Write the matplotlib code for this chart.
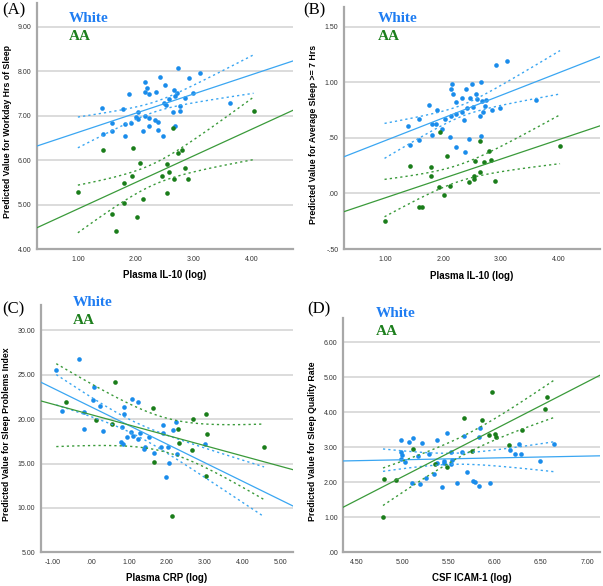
import numpy as np
import matplotlib.pyplot as plt

W, H = 603, 586

# (A) Plasma IL-10 vs workday hours of sleep
a_white_x = [2.73, 3.11, 2.41, 2.92, 2.15, 2.51, 2.19, 2.66, 2.16, 2.71, 2.22, 1.88, 2.34, 2.99, 2.68,
             2.57, 2.84, 2.48, 2.52, 1.41, 1.77, 2.76, 3.62, 2.64, 2.76, 2.04, 2.00, 2.04, 2.16, 2.23,
             2.33, 2.38, 1.58, 1.82, 1.91, 2.67, 2.23, 2.13, 2.38, 1.59, 1.44, 1.82, 2.46]
a_white_y = [8.08, 7.95, 7.87, 7.84, 7.76, 7.68, 7.63, 7.58, 7.53, 7.50, 7.48, 7.49, 7.52, 7.50, 7.44,
             7.38, 7.40, 7.29, 7.23, 7.18, 7.14, 7.22, 7.29, 7.08, 7.10, 7.08, 6.96, 6.92, 6.99, 6.95,
             6.89, 6.86, 6.83, 6.81, 6.83, 6.77, 6.77, 6.66, 6.67, 6.65, 6.59, 6.54, 6.54]
a_aa_x = [1.43, 1.95, 2.72, 2.80, 2.08, 2.53, 2.84, 2.57, 1.93, 2.45, 2.65, 2.90, 1.80, 1.00, 2.53,
          2.13, 1.80, 1.59, 2.02, 1.65, 2.64, 4.03]
a_aa_y = [6.23, 6.27, 6.15, 6.22, 5.94, 5.92, 5.81, 5.72, 5.63, 5.63, 5.58, 5.58, 5.48, 5.28, 5.25,
          5.12, 5.03, 4.79, 4.72, 4.40, 6.72, 7.10]

# (B) Plasma IL-10 vs average sleep >= 7 hrs
b_white_x = [2.91, 3.10, 2.16, 2.50, 2.66, 2.14, 2.18, 2.40, 2.57, 1.76, 2.22, 2.32, 2.47, 2.59, 2.67,
             2.75, 2.73, 2.99, 3.61, 2.84, 1.90, 2.41, 2.51, 2.69, 2.63, 2.33, 2.22, 2.14, 2.03, 2.37,
             1.58, 1.40, 1.81, 1.88, 1.98, 1.81, 1.58, 1.43, 2.12, 2.44, 2.66, 2.22, 2.38]
b_white_y = [1.16, 1.19, 0.99, 0.99, 1.00, 0.94, 0.90, 0.94, 0.90, 0.80, 0.82, 0.86, 0.86, 0.85, 0.83,
             0.84, 0.79, 0.77, 0.84, 0.75, 0.75, 0.77, 0.78, 0.73, 0.70, 0.73, 0.72, 0.70, 0.67, 0.66,
             0.67, 0.61, 0.63, 0.63, 0.58, 0.53, 0.48, 0.44, 0.51, 0.49, 0.52, 0.42, 0.37]
b_aa_x = [1.94, 2.63, 2.07, 2.79, 1.43, 1.79, 2.56, 2.71, 2.83, 4.02, 1.79, 2.53, 2.64, 2.53, 2.45,
          2.90, 2.12, 1.93, 2.01, 1.58, 1.64, 0.99]
b_aa_y = [0.55, 0.47, 0.34, 0.38, 0.25, 0.24, 0.29, 0.28, 0.30, 0.43, 0.16, 0.16, 0.19, 0.13, 0.10,
          0.11, 0.07, 0.06, -0.01, -0.12, -0.12, -0.25]

# (C) Plasma CRP vs sleep problems index
c_white_x = [-0.30, -0.91, -0.75, -0.19, 0.09, 0.05, 0.24, -0.19, 0.32, 1.09, 1.23, 0.88, 0.88, 0.81,
             1.05, 1.11, 0.95, 1.30, 1.52, 1.24, 1.90, 1.90, 2.24, 2.16, 0.79, 0.84, 1.43, 1.41, 1.67,
             1.84, 2.02, 2.26, 2.07, 1.97, 3.00]
c_white_y = [26.77, 25.53, 20.91, 20.84, 23.58, 22.15, 21.48, 18.89, 18.63, 22.27, 21.89, 21.36, 20.54,
             19.08, 18.59, 18.10, 17.95, 18.40, 18.02, 17.80, 19.34, 18.47, 19.71, 18.81, 17.46, 17.23,
             16.86, 16.67, 16.15, 16.89, 16.89, 16.03, 15.02, 13.51, 17.23]
c_aa_x = [-0.66, 0.64, 1.63, 0.14, 0.56, 2.29, 2.68, 3.04, 3.06, 2.32, 2.65, 1.65, 3.03, 2.13, 4.56]
c_aa_y = [21.89, 24.21, 21.28, 19.90, 19.45, 18.89, 20.01, 20.54, 18.32, 17.28, 16.54, 15.20, 13.59,
          9.09, 16.82]

# (D) CSF ICAM-1 vs sleep quality rate
d_white_x = [5.48, 5.12, 5.67, 5.84, 5.83, 5.37, 4.98, 5.07, 5.21, 4.99, 5.00, 5.17, 5.29, 5.53, 5.65,
             6.16, 6.26, 6.22, 6.28, 6.64, 4.98, 5.03, 5.38, 5.45, 5.45, 5.54, 5.53, 6.49, 5.70, 5.34,
             5.26, 5.77, 5.79, 5.10, 5.19, 5.59, 5.95, 5.43, 5.83]
d_white_y = [3.40, 3.26, 3.32, 3.56, 3.29, 3.21, 3.21, 3.14, 3.12, 2.86, 2.78, 2.76, 2.80, 2.86, 2.87,
             2.92, 3.11, 2.81, 2.81, 3.09, 2.67, 2.59, 2.56, 2.62, 2.55, 2.65, 2.53, 2.60, 2.29, 2.24,
             2.13, 2.04, 2.02, 1.97, 1.95, 1.97, 1.99, 1.86, 1.90]
d_aa_x = [5.97, 6.57, 6.54, 5.67, 5.86, 6.30, 5.94, 6.00, 6.01, 6.15, 5.12, 5.75, 5.35, 5.48, 4.80,
          4.93, 4.79]
d_aa_y = [4.59, 4.45, 4.09, 3.83, 3.79, 3.49, 3.35, 3.37, 3.29, 3.06, 2.95, 2.89, 2.53, 2.45, 2.10,
          2.06, 1.01]

BLUE_PT, BLUE_LN = '#1a8ceb', '#3aa6f2'
GREEN_PT, GREEN_LN = '#1a7d1a', '#3a9a3a'

panels = [
    dict(tag='(A)', box=(36.7, 3, 293, 249), xlim=(0.29, 4.71), ylim=(4, 9.53),
         xt=[1, 2, 3, 4], yt=[4, 5, 6, 7, 8, 9],
         wx=a_white_x, wy=a_white_y, gx=a_aa_x, gy=a_aa_y,
         xlab='Plasma IL-10 (log)', ylab='Predicted Value for Workday Hrs of Sleep',
         tagpos=(2, 2), legpos=(69, 12), ylx=7.5, xly=275),
    dict(tag='(B)', box=(344, 7, 600, 249), xlim=(0.29, 4.71), ylim=(-0.5, 1.68),
         xt=[1, 2, 3, 4], yt=[-0.5, 0, 0.5, 1.0, 1.5],
         wx=b_white_x, wy=b_white_y, gx=b_aa_x, gy=b_aa_y,
         xlab='Plasma IL-10 (log)', ylab='Predicted Value for Average Sleep >= 7 Hrs',
         tagpos=(303, 2), legpos=(378, 12), ylx=313, xly=276),
    dict(tag='(C)', box=(40.7, 305, 293.3, 552.3), xlim=(-1.32, 5.33), ylim=(5, 32.85),
         xt=[-1, 0, 1, 2, 3, 4, 5], yt=[5, 10, 15, 20, 25, 30],
         wx=c_white_x, wy=c_white_y, gx=c_aa_x, gy=c_aa_y,
         xlab='Plasma CRP (log)', ylab='Predicted Value for Sleep Problems Index',
         tagpos=(2, 301), legpos=(73, 296), ylx=7, xly=578),
    dict(tag='(D)', box=(343.3, 318.3, 600, 552.3), xlim=(4.36, 7.14), ylim=(0, 6.69),
         xt=[4.5, 5, 5.5, 6, 6.5, 7], yt=[0, 1, 2, 3, 4, 5, 6],
         wx=d_white_x, wy=d_white_y, gx=d_aa_x, gy=d_aa_y,
         xlab='CSF ICAM-1 (log)', ylab='Predicted Value for Sleep Quality Rate',
         tagpos=(307, 301), legpos=(376, 307), ylx=312.5, xly=578),
]


def spss(v):
    s = f"{v:.2f}"
    if s.startswith('0.'):
        s = s[1:]
    elif s.startswith('-0.'):
        s = '-' + s[2:]
    return s


def fit_with_ci(ax, x, y, xlim, xr, ln_color):
    x = np.asarray(x)
    y = np.asarray(y)
    n = len(x)
    b, a = np.polyfit(x, y, 1)
    xs = np.array(xlim)
    ax.plot(xs, a + b * xs, color=ln_color, lw=0.9, zorder=4)
    res = y - (a + b * x)
    s = np.sqrt(np.sum(res ** 2) / (n - 2))
    t = 1.96 + 2.4 / (n - 2)
    sxx = np.sum((x - x.mean()) ** 2)
    g = np.linspace(xr[0], xr[1], 60)
    hw = t * s * np.sqrt(1 / n + (g - x.mean()) ** 2 / sxx)
    for sign in (1, -1):
        ax.plot(g, a + b * g + sign * hw, color=ln_color, lw=1.0,
                linestyle=(0, (1.6, 2.2)), zorder=4)


fig = plt.figure(figsize=(W / 100, H / 100), dpi=100)


def px(x, y):
    return x / W, 1 - y / H


for p in panels:
    l, t, r, b = p['box']
    ax = fig.add_axes([l / W, 1 - b / H, (r - l) / W, (b - t) / H])
    ax.set_xlim(*p['xlim'])
    ax.set_ylim(*p['ylim'])
    for sp in ('top', 'right'):
        ax.spines[sp].set_visible(False)
    for sp in ('left', 'bottom'):
        ax.spines[sp].set_color('#a8a8a8')
        ax.spines[sp].set_linewidth(1.6)
    ax.set_xticks(p['xt'])
    ax.set_yticks(p['yt'])
    ax.set_xticklabels([spss(v) for v in p['xt']])
    ax.set_yticklabels([spss(v) for v in p['yt']])
    ax.tick_params(length=0, labelsize=5, colors='#333333', pad=4,
                   labelfontfamily='Liberation Sans')
    ax.tick_params(axis='x', pad=5)
    for v in p['yt']:
        ax.axhline(v, color='#d6d6d6', lw=1.2, zorder=0)

    allx = list(p['wx']) + list(p['gx'])
    xr = (min(allx), max(allx))
    ax.scatter(p['wx'], p['wy'], s=11, color=BLUE_PT, linewidths=0, zorder=3)
    ax.scatter(p['gx'], p['gy'], s=11, color=GREEN_PT, linewidths=0, zorder=3)
    fit_with_ci(ax, p['wx'], p['wy'], p['xlim'], xr, BLUE_LN)
    fit_with_ci(ax, p['gx'], p['gy'], p['xlim'], xr, GREEN_LN)

    fig.text(*px(*p['tagpos']), p['tag'], fontsize=12, family='Liberation Serif',
             ha='left', va='top')
    lx, ly = p['legpos']
    fig.text(*px(lx, ly), 'White', fontsize=11, family='Liberation Serif',
             weight='bold', color='#1f7df2', ha='left', va='top')
    fig.text(*px(lx, ly + 18), 'AA', fontsize=11, family='Liberation Serif',
             weight='bold', color='#1d7f1d', ha='left', va='top')
    fig.text(*px((l + r) / 2, p['xly']), p['xlab'], fontsize=7, weight='bold',
             family='Liberation Sans', ha='center', va='center')
    fig.text(*px(p['ylx'], (t + b) / 2 + 6), p['ylab'], fontsize=6.3, weight='bold',
             family='Liberation Sans', rotation=90, ha='center', va='center')

fig.savefig('out.png', dpi=100)
